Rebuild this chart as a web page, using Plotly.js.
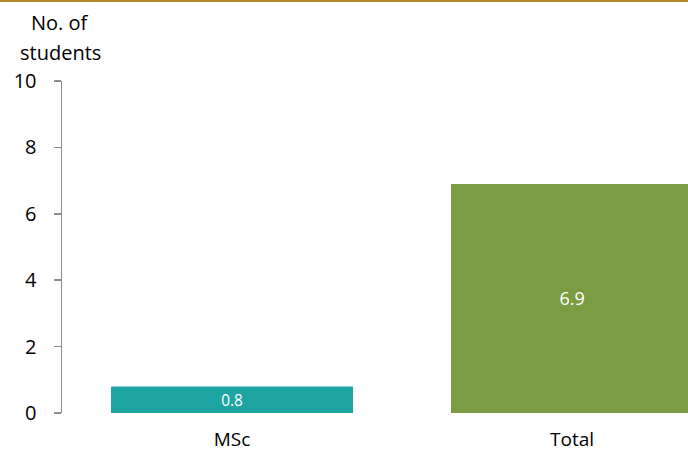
<!DOCTYPE html>
<html><head><meta charset="utf-8">
<script src="https://cdn.plot.ly/plotly-3.0.1.min.js"></script>
<style>html,body{margin:0;padding:0;background:#fff}#chart{width:688px;height:453px}</style>
</head><body><div id="chart"></div>
<script>
const categories = ["MSc", "Total"];
const values = [0.8, 6.9];
const barColors = ["#1fa5a1", "#7c9c42"];
const yTicks = [0, 2, 4, 6, 8, 10];
const yTitleLines = ["No. of", "students"];

const font = "'Open Sans', 'Liberation Sans', sans-serif";
const trace = {
  type: "bar",
  x: categories,
  y: values,
  marker: {color: barColors},
  width: 0.712,
  text: values.map(v => v.toFixed(1)),
  textposition: "inside",
  insidetextanchor: "middle",
  textfont: {family: font, size: 18, color: "#ffffff"},
  hoverinfo: "none"
};
const layout = {
  width: 688, height: 453,
  margin: {l: 62, r: 0, t: 81, b: 40},
  paper_bgcolor: "#fff", plot_bgcolor: "#fff",
  showlegend: false,
  font: {family: font, size: 20, color: "#000"},
  xaxis: {
    type: "category", range: [-0.5, 1.341],
    showline: false, showgrid: false, zeroline: false,
    ticks: "", ticklabelstandoff: 13,
    tickfont: {family: font, size: 19, color: "#000"}
  },
  yaxis: {
    range: [0, 10], tickvals: yTicks,
    showline: true, linecolor: "#8c8c8c", linewidth: 1.5,
    ticks: "outside", ticklen: 7, tickcolor: "#8c8c8c", tickwidth: 1.5,
    ticklabelstandoff: 13,
    showgrid: false, zeroline: false,
    tickfont: {family: font, size: 20, color: "#000"}
  },
  annotations: yTitleLines.map((t, i) => ({
    text: t, xref: "paper", yref: "paper",
    x: -0.003, y: (413 - (22 + 30 * i)) / 332, xanchor: "center", yanchor: "middle",
    showarrow: false, align: "center",
    font: {family: font, size: 20, color: "#000"}
  })),
  shapes: [{
    type: "line", xref: "paper", yref: "paper",
    x0: -0.2, x1: 1.1, y0: 1.2425, y1: 1.2425,
    line: {color: "#b08a28", width: 3}
  }]
};
Plotly.newPlot("chart", [trace], layout, {staticPlot: true, displayModeBar: false});
</script></body></html>
